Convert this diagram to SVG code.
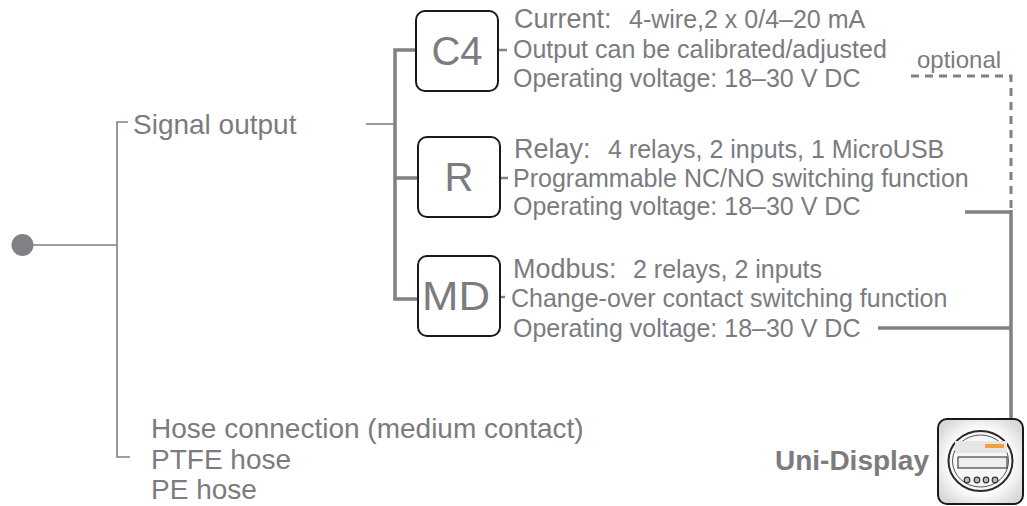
<svg xmlns="http://www.w3.org/2000/svg" width="1027" height="506" viewBox="0 0 1027 506">
<defs>
<style>
text{font-family:"Liberation Sans",Arial,Helvetica,sans-serif;fill:#7b7b80}
.lbl{font-size:28px}
.hd{font-size:27px}
.sub{font-size:25px}
.box{fill:#fff;stroke:#1a1a1a;stroke-width:2}
.code{font-size:40px;text-anchor:middle}
.thin{stroke:#808085;stroke-width:1.6;fill:none}
.thick{stroke:#808085;stroke-width:3.5;fill:none}
.tick{stroke:#808085;stroke-width:2.5;fill:none}
.dash{stroke:#808085;stroke-width:3;fill:none;stroke-dasharray:8 6}
.bold{font-weight:bold;font-size:28px;text-anchor:end}
</style>
<radialGradient id="dispbg" cx="0.5" cy="0.5" r="0.6">
<stop offset="0.6" stop-color="#ffffff"/>
<stop offset="1" stop-color="#d9d9d9"/>
</radialGradient>
</defs>
<rect width="1027" height="506" fill="#fff"/>

<g id="connectors">
<path class="thin" d="M33 245 H117"/>
<path class="thin" d="M128 122 H117 V457 H130"/>
<path class="thin" d="M366 124 H395"/>
<path class="thick" d="M416 50 H395 V299 H418"/>
<path class="thick" d="M395 178 H418"/>
<path class="tick" d="M498 50 H507"/>
<path class="tick" d="M500 178 H508"/>
<path class="tick" d="M500 297 H505"/>
<path class="dash" d="M911 76 H1011 V210"/>
<path class="thick" d="M965 212 H1011 M878 328 H1011 M1011 210 V419"/>
</g>

<g id="root">
<circle cx="22.5" cy="245" r="11" fill="#808085"/>
</g>

<g id="signal-output">
<text class="lbl" x="133" y="134">Signal output</text>
</g>

<g id="hose">
<text class="lbl" x="151" y="438">Hose connection (medium contact)</text>
<text class="lbl" x="151" y="469">PTFE hose</text>
<text class="lbl" x="151" y="499">PE hose</text>
</g>

<g id="c4">
<rect class="box" x="416" y="11" width="82" height="80" rx="9"/>
<text class="code" x="457" y="65">C4</text>
<text x="514" y="28"><tspan class="hd">Current:</tspan> <tspan class="sub" x="629">4-wire,2 x 0/4–20 mA</tspan></text>
<text class="sub" x="513" y="58">Output can be calibrated/adjusted</text>
<text class="sub" x="513" y="87">Operating voltage: 18–30 V DC</text>
</g>

<g id="r">
<rect class="box" x="418" y="137" width="82" height="80" rx="9"/>
<text class="code" x="459" y="191">R</text>
<text x="514" y="158"><tspan class="hd">Relay:</tspan> <tspan class="sub" x="608">4 relays, 2 inputs, 1 MicroUSB</tspan></text>
<text class="sub" x="513" y="187">Programmable NC/NO switching function</text>
<text class="sub" x="513" y="215">Operating voltage: 18–30 V DC</text>
</g>

<g id="md">
<rect class="box" x="418" y="256" width="82" height="80" rx="9"/>
<text class="code" x="456" y="310" textLength="68" lengthAdjust="spacingAndGlyphs">MD</text>
<text x="513" y="278"><tspan class="hd">Modbus:</tspan> <tspan class="sub" x="633">2 relays, 2 inputs</tspan></text>
<text class="sub" x="511" y="307">Change-over contact switching function</text>
<text class="sub" x="513" y="337">Operating voltage: 18–30 V DC</text>
</g>

<g id="optional">
<text x="917" y="68" style="font-size:24px">optional</text>
</g>

<g id="uni-display">
<text class="bold" x="929" y="470">Uni-Display</text>
<rect x="938" y="419" width="85" height="85" rx="9" fill="url(#dispbg)" stroke="#1a1a1a" stroke-width="2"/>
<ellipse cx="980.5" cy="461" rx="32" ry="30" fill="#f7f7f7" stroke="#2a2a2a" stroke-width="2"/>
<ellipse cx="980.5" cy="461" rx="28" ry="26" fill="none" stroke="#555" stroke-width="1"/>
<rect x="955" y="441" width="52" height="12" fill="#e6e6e6"/>
<rect x="985" y="444" width="19" height="4" fill="#f0a040"/>
<rect x="958" y="457" width="49" height="11" fill="#eeeeee" stroke="#444" stroke-width="1.2"/>
<g fill="#bbb" stroke="#333" stroke-width="1.2">
<circle cx="967" cy="480" r="2.8"/>
<circle cx="977" cy="480" r="2.8"/>
<circle cx="986" cy="480" r="2.8"/>
<circle cx="995" cy="480" r="2.8"/>
</g>
</g>
</svg>
